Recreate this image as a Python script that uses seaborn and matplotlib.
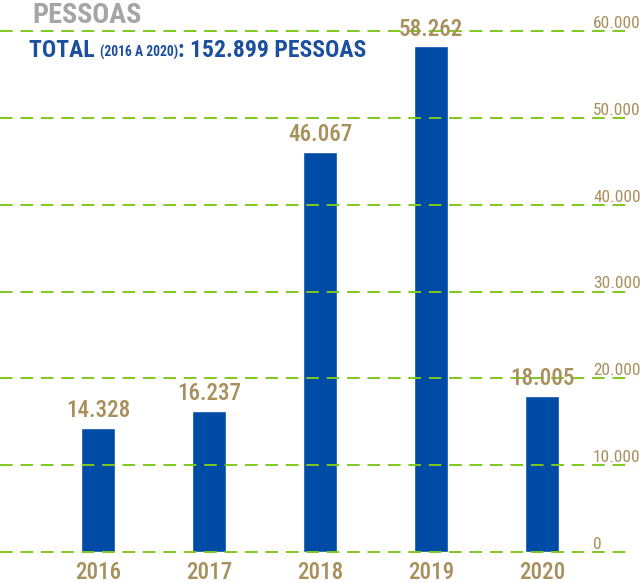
import matplotlib
matplotlib.use("Agg")
import matplotlib.pyplot as plt
from matplotlib import font_manager as fm
import seaborn as sns
import pandas as pd

years = ["2016", "2017", "2018", "2019", "2020"]
values = [14328, 16237, 46067, 58262, 18005]
yticks = [0, 10000, 20000, 30000, 40000, 50000, 60000]
title = "PESSOAS"
total_parts = ["TOTAL ", "(2016 A 2020)", ": 152.899 PESSOAS"]

names = {f.name for f in fm.fontManager.ttflist}
FONT = "Roboto Condensed" if "Roboto Condensed" in names else "Roboto"
K = 1.15 if FONT == "Roboto Condensed" else 1.0

sns.set_theme(style="white")
plt.rcParams["font.family"] = [FONT, "DejaVu Sans"]

BLUE = "#004BA6"
GOLD = "#A8905C"
GREEN = "#80C81E"
GREY = "#A5A5A5"
TBLUE = "#1C4F9E"

def fmt(v):
    return f"{v:,}".replace(",", ".")

df = pd.DataFrame({"ano": years, "pessoas": values})

W, H = 643, 583
fig = plt.figure(figsize=(W / 100, H / 100), dpi=100)
ax_left, ax_right = 0, 633
ax_top, ax_bot = 25, 560
ax = fig.add_axes([ax_left / W, (H - ax_bot) / H, (ax_right - ax_left) / W, (ax_bot - ax_top) / H])

sns.barplot(data=df, x="ano", y="pessoas", color=BLUE, width=0.315, ax=ax, saturation=1)

# y scale: 0 at px 552, 60000 at px 31
ppu = (552 - 31) / 60000
ax.set_ylim(-(ax_bot - 552) / ppu, 60000 + (31 - ax_top) / ppu)
# x scale: first bar centre at px 98, step 111 px
step = 111
xl = -(98 - ax_left) / step
ax.set_xlim(xl, xl + (ax_right - ax_left) / step)

for y in yticks:
    ax.axhline(y, color=GREEN, lw=1.4, linestyle=(0, (6.5, 4)), zorder=3)

ax.set_yticks(yticks)
ax.set_yticklabels([fmt(v) for v in yticks])
ax.yaxis.tick_right()
ax.tick_params(axis="y", length=0, pad=-(ax_right - 593) * 0.72, labelsize=10.8 * K,
               labelcolor=GOLD)
for lab in ax.get_yticklabels():
    lab.set_ha("left")
    lab.set_va("bottom")
ax.tick_params(axis="x", length=0, pad=1.0, labelsize=14.4 * K, labelcolor=GOLD)
for lab in ax.get_xticklabels():
    lab.set_fontweight("medium")
ax.set_xlabel("")
ax.set_ylabel("")
for s in ax.spines.values():
    s.set_visible(False)

ax.bar_label(ax.containers[0], labels=[fmt(v) for v in values], padding=4,
             fontsize=14.5 * K, color=GOLD, fontweight="medium")

fig.text(32 / W, 1 - 2 / H, title, ha="left", va="top", fontsize=17.7 * K,
         fontweight="bold", color=GREY)

fig.canvas.draw()
r = fig.canvas.get_renderer()
x = 29
base_y = 1 - 57 / H
sizes = [14.8 * K, 8.5 * K, 14.8 * K]
for part, sz in zip(total_parts, sizes):
    t = fig.text(x / W, base_y, part, ha="left", va="baseline", fontsize=sz,
                 fontweight="bold", color=TBLUE)
    bb = t.get_window_extent(renderer=r)
    x += bb.width

fig.savefig("out.png", dpi=100)
